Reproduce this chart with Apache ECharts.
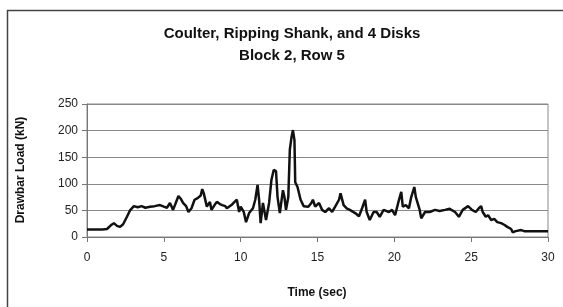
<!DOCTYPE html>
<html>
<head>
<meta charset="utf-8">
<script src="https://cdn.jsdelivr.net/npm/echarts@6/dist/echarts.min.js"></script>
<style>html,body{margin:0;padding:0;background:#fff;}#c{width:563px;height:307px;}</style>
</head>
<body>
<div id="c"></div>
<script>
var titleLines = ['Coulter, Ripping Shank, and 4 Disks', 'Block 2, Row 5'];
var xTitle = 'Time (sec)';
var yTitle = 'Drawbar Load (kN)';
var xTicks = [0, 5, 10, 15, 20, 25, 30];
var yTicks = [0, 50, 100, 150, 200, 250];
var timeSec = [0,0.5,1.0,1.3,1.55,1.75,1.95,2.15,2.35,2.6,2.8,3.05,3.3,3.55,3.8,4.1,4.4,4.75,5.0,5.2,5.4,5.6,5.75,5.95,6.1,6.25,6.45,6.6,6.8,7.0,7.2,7.4,7.5,7.6,7.8,8.0,8.1,8.3,8.45,8.65,8.8,9.0,9.1,9.4,9.6,9.75,9.9,10.0,10.2,10.35,10.55,10.8,10.95,11.1,11.2,11.3,11.45,11.65,11.85,12.0,12.15,12.3,12.4,12.55,12.75,12.85,12.95,13.1,13.2,13.3,13.4,13.5,13.55,13.7,13.9,14.1,14.4,14.6,14.7,14.85,15.1,15.3,15.5,15.75,15.95,16.15,16.4,16.5,16.7,16.9,17.1,17.45,17.7,17.9,18.1,18.2,18.4,18.65,18.85,19.05,19.3,19.65,19.85,20.05,20.25,20.45,20.55,20.75,20.95,21.1,21.3,21.4,21.65,21.75,22.0,22.3,22.65,22.95,23.3,23.6,23.95,24.2,24.45,24.8,25.05,25.3,25.5,25.65,25.75,25.95,26.1,26.3,26.5,26.7,26.95,27.15,27.35,27.6,27.7,27.9,28.25,28.45,29.0,30.0];
var loadKN = [14,14,14,15,22,26,21,19,24,38,50,58,56,58,55,57,58,60,57,55,64,51,62,77,72,64,58,47,54,70,73,78,90,82,57,66,51,60,66,62,60,58,54,60,66,70,47,57,47,28,45,54,70,98,70,26,64,32,64,107,126,124,75,45,88,75,51,75,164,186,201,182,103,94,70,58,57,64,70,57,64,51,47,54,47,57,70,82,60,54,51,45,39,54,70,47,32,47,47,38,51,47,51,41,64,85,57,60,54,75,94,75,51,35,47,47,51,49,51,53,47,38,51,58,51,47,54,58,47,38,41,32,34,28,26,23,19,15,9,11,13,11,11,11];

var seriesData = timeSec.map(function (t, i) { return [t, loadKN[i]]; });
var chart = echarts.init(document.getElementById('c'), null, {renderer: 'canvas'});
var font = 'Arial, "Liberation Sans", sans-serif';
chart.setOption({
  animation: false,
  backgroundColor: '#ffffff',
  graphic: [
    {type: 'rect', shape: {x: 7.5, y: 10.5, width: 700, height: 400}, style: {fill: 'none', stroke: '#444', lineWidth: 1.5}, silent: true, z: 0},
    {type: 'text', x: 292, y: 34, style: {text: titleLines[0], font: 'bold 15px ' + font, fill: '#111', align: 'center', verticalAlign: 'middle'}},
    {type: 'text', x: 292, y: 56, style: {text: titleLines[1], font: 'bold 15px ' + font, fill: '#111', align: 'center', verticalAlign: 'middle'}},
    {type: 'text', x: 21, y: 170, rotation: Math.PI / 2, style: {text: yTitle, font: 'bold 12px ' + font, fill: '#111', align: 'center', verticalAlign: 'middle'}},
    {type: 'text', x: 317, y: 293, style: {text: xTitle, font: 'bold 12px ' + font, fill: '#111', align: 'center', verticalAlign: 'middle'}}
  ],
  grid: {left: 87, right: 15, top: 104, bottom: 70, show: true, borderColor: '#888', borderWidth: 1, backgroundColor: 'transparent'},
  xAxis: {
    type: 'value', min: xTicks[0], max: xTicks[xTicks.length - 1], interval: 5,
    axisLine: {show: true, lineStyle: {color: '#777', width: 1}},
    axisTick: {show: true, inside: false, length: 5, lineStyle: {color: '#777'}},
    axisLabel: {color: '#222', fontSize: 12, fontFamily: font, margin: 15},
    splitLine: {show: false}
  },
  yAxis: {
    type: 'value', min: yTicks[0], max: yTicks[yTicks.length - 1], interval: 50,
    axisLine: {show: true, lineStyle: {color: '#777', width: 1}},
    axisTick: {show: true, inside: false, length: 5, lineStyle: {color: '#777'}},
    axisLabel: {color: '#222', fontSize: 12, fontFamily: font, margin: 9},
    splitLine: {show: true, lineStyle: {color: '#888', width: 1}}
  },
  series: [{
    type: 'line', data: seriesData, showSymbol: false, symbol: 'none',
    lineStyle: {color: '#111', width: 2.5}, z: 3
  }]
});
</script>
</body>
</html>
